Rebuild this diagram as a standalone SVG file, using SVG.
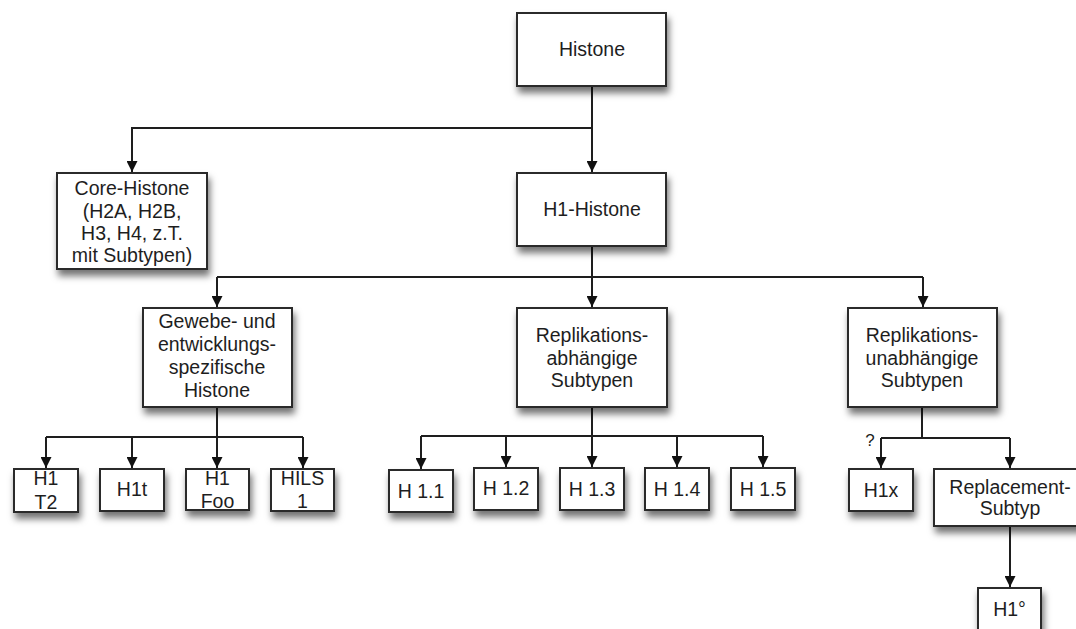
<svg xmlns="http://www.w3.org/2000/svg" width="1076" height="629" viewBox="0 0 1076 629">
<style>
.box{fill:#fff;stroke:#2b2b2b;stroke-width:2;filter:url(#sh)}
.t{font-family:"Liberation Sans",Arial,Helvetica,sans-serif;font-size:19.5px;fill:#1e1e1e;text-anchor:middle}
.c{fill:none;stroke:#1e1e1e;stroke-width:2}
</style>
<defs>
<filter id="sh" x="-20%" y="-20%" width="140%" height="160%">
<feDropShadow dx="2" dy="6" stdDeviation="3.5" flood-color="#000" flood-opacity="0.55"/>
</filter>
<marker id="ar" viewBox="0 0 10 10" refX="10" refY="5" markerWidth="14" markerHeight="11" markerUnits="userSpaceOnUse" orient="auto">
<path d="M0,0 L10,5 L0,10 z" fill="#111"/>
</marker>
</defs>
<rect width="1076" height="629" fill="#fff"/>
<g id="connectors">
<path class="c" d="M592,86 V172" marker-end="url(#ar)"/>
<path class="c" d="M592,128 H132 V172" marker-end="url(#ar)"/>
<path class="c" d="M592,246 V307" marker-end="url(#ar)"/>
<path class="c" d="M217,277 H923"/>
<path class="c" d="M217,277 V307" marker-end="url(#ar)"/>
<path class="c" d="M923,277 V307" marker-end="url(#ar)"/>
<path class="c" d="M217,407 V468" marker-end="url(#ar)"/>
<path class="c" d="M46,437 H303"/>
<path class="c" d="M46,437 V468" marker-end="url(#ar)"/>
<path class="c" d="M132,437 V468" marker-end="url(#ar)"/>
<path class="c" d="M303,437 V468" marker-end="url(#ar)"/>
<path class="c" d="M592,407 V467" marker-end="url(#ar)"/>
<path class="c" d="M421,436 H763"/>
<path class="c" d="M421,436 V469" marker-end="url(#ar)"/>
<path class="c" d="M506,436 V467" marker-end="url(#ar)"/>
<path class="c" d="M677,436 V467" marker-end="url(#ar)"/>
<path class="c" d="M763,436 V467" marker-end="url(#ar)"/>
<path class="c" d="M922,407 V438"/>
<path class="c" d="M881,438 H1010"/>
<path class="c" d="M881,438 V468" marker-end="url(#ar)"/>
<path class="c" d="M1010,438 V468" marker-end="url(#ar)"/>
<path class="c" d="M1010,526 V587" marker-end="url(#ar)"/>
<text class="t" x="870" y="446" style="font-size:17px">?</text>
</g>
<g id="histone"><rect class="box" x="517" y="13" width="149" height="73"/><text class="t" x="592" y="56">Histone</text></g>
<g id="core"><rect class="box" x="57" y="173" width="150" height="96"/>
<text class="t" x="132" y="194.5">Core-Histone</text><text class="t" x="132" y="217.5">(H2A, H2B,</text><text class="t" x="132" y="240">H3, H4, z.T.</text><text class="t" x="132" y="262">mit Subtypen)</text></g>
<g id="h1histone"><rect class="box" x="517" y="173" width="149" height="73"/><text class="t" x="592" y="216">H1-Histone</text></g>
<g id="gewebe"><rect class="box" x="143" y="308" width="149" height="99"/>
<text class="t" x="217" y="328">Gewebe- und</text><text class="t" x="217" y="351">entwicklungs-</text><text class="t" x="217" y="374">spezifische</text><text class="t" x="217" y="397">Histone</text></g>
<g id="repabh"><rect class="box" x="517" y="308" width="150" height="99"/>
<text class="t" x="592" y="342">Replikations-</text><text class="t" x="592" y="364.5">abhängige</text><text class="t" x="592" y="387">Subtypen</text></g>
<g id="repunabh"><rect class="box" x="848" y="308" width="149" height="99"/>
<text class="t" x="922" y="342">Replikations-</text><text class="t" x="922" y="364.5">unabhängige</text><text class="t" x="922" y="387">Subtypen</text></g>
<g id="h1t2"><rect class="box" x="14" y="469" width="64" height="43"/><text class="t" x="46" y="485">H1</text><text class="t" x="46" y="509">T2</text></g>
<g id="h1t"><rect class="box" x="100" y="469" width="64" height="42"/><text class="t" x="132" y="496">H1t</text></g>
<g id="h1foo"><rect class="box" x="186" y="469" width="63" height="41"/><text class="t" x="217.5" y="485">H1</text><text class="t" x="217.5" y="508">Foo</text></g>
<g id="hils1"><rect class="box" x="271" y="469" width="63" height="42"/><text class="t" x="302.5" y="485">HILS</text><text class="t" x="302.5" y="508">1</text></g>
<g id="h11"><rect class="box" x="389" y="470" width="64" height="42"/><text class="t" x="421" y="498">H 1.1</text></g>
<g id="h12"><rect class="box" x="474" y="468" width="64" height="42"/><text class="t" x="506" y="495">H 1.2</text></g>
<g id="h13"><rect class="box" x="560" y="468" width="64" height="42"/><text class="t" x="592" y="496">H 1.3</text></g>
<g id="h14"><rect class="box" x="645" y="468" width="64" height="42"/><text class="t" x="677" y="496">H 1.4</text></g>
<g id="h15"><rect class="box" x="731" y="468" width="64" height="42"/><text class="t" x="763" y="496">H 1.5</text></g>
<g id="h1x"><rect class="box" x="849" y="469" width="64" height="42"/><text class="t" x="881" y="497">H1x</text></g>
<g id="replacement"><rect class="box" x="934" y="469" width="152" height="57"/><text class="t" x="1010" y="494">Replacement-</text><text class="t" x="1010" y="515">Subtyp</text></g>
<g id="h1grad"><rect class="box" x="978" y="588" width="63" height="50"/><text class="t" x="1009.5" y="616">H1°</text></g>
</svg>
